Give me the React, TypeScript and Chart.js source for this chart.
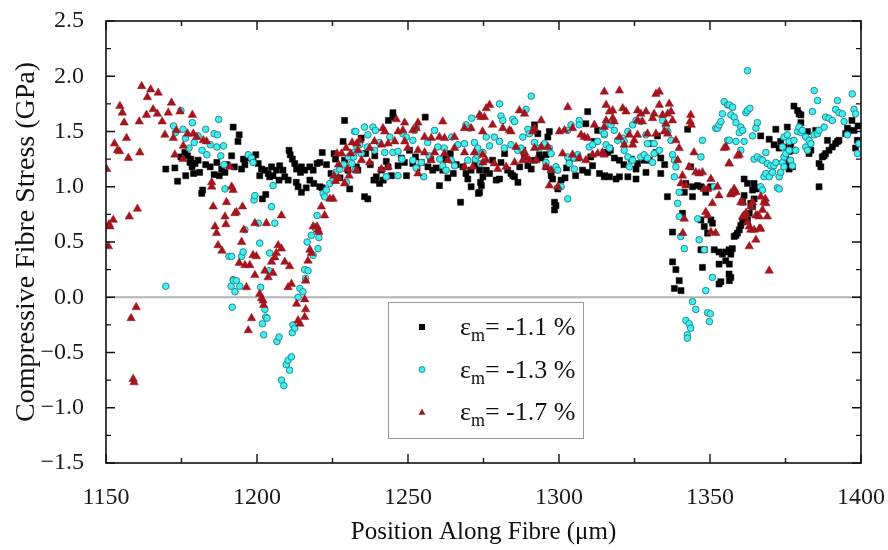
import React, { useEffect, useRef } from "react";
import { Chart, registerables } from "chart.js";

Chart.register(...registerables);

const xRange = [1150, 1400];
const yRange = [-1.5, 2.5];
const xStep = 50;
const yStep = 0.5;
const xTitle = "Position Along Fibre (\u03bcm)";
const yTitle = "Compressive Fibre Stress (GPa)";
const seriesLabels = ["-1.1 %", "-1.3 %", "-1.7 %"];

// epsilon_m = -1.1 %  [position (um), stress (GPa)]
const strain11: number[][] = [
  [1169.8,1.16],[1172.8,1.17],[1173.7,1.05],[1174.8,1.27],[1176.1,1.31],[1176.4,1.10],[1177,1.28],[1177.8,1.22],[1178.1,1.25],[1178.5,1.18],[1179,1.12],[1179.5,1.21],[1180.5,1.24],[1181,1.13],[1181.7,0.94],[1182,0.97],[1183,1.2],[1184.5,1.18],[1185.8,1.11],[1186.7,1.22],[1187.5,1.1],[1188.3,1.16],[1189.4,1.13],[1190,1.2],[1191.6,1.28],[1192.1,1.54],[1192.5,1.18],[1193.7,1.41],[1194.1,1.47],[1194.9,1.16],[1195.5,1.25],[1196,1.2],[1197.4,1.26],[1198.7,1.24],[1199.6,1.29],[1200.4,1.21],[1200.9,1.10],[1201.5,1.16],[1201.8,0.89],[1202.6,1.15],[1202.9,0.93],[1203.7,1.12],[1204.2,1.09],[1204.8,1.18],[1205.3,1.10],[1206.4,1.15],[1207.3,1.06],[1207.5,1.19],[1208.6,1.15],[1209.2,1.09],[1210.3,1.06],[1210.6,1.33],[1211,1.29],[1211.7,1.25],[1212.5,1.21],[1213,1.04],[1213.1,1.16],[1213.6,1.00],[1214.4,1.13],[1214.7,1.18],[1214.7,0.95],[1215.8,1.15],[1216.3,0.99],[1217.5,1.18],[1217.5,1.06],[1218.6,1.15],[1218.8,1.03],[1219.9,1.21],[1220.8,1.22],[1220.8,1.00],[1221.6,1.31],[1221.6,0.99],[1223,1.2],[1224.5,1.12],[1225.5,1.30],[1226,1.25],[1227.5,1.08],[1228.5,1.41],[1229,1.60],[1229,1.24],[1230.1,1.15],[1230.7,0.98],[1232.9,1.18],[1233.4,1.15],[1234.5,1.44],[1235.6,0.91],[1236,1.3],[1236.7,0.89],[1237.5,1.2],[1238.7,1.06],[1239,1.28],[1239.5,1.09],[1240.6,1.03],[1241.2,1.15],[1241.8,1.06],[1242.8,1.23],[1243.4,1.18],[1243.5,1.60],[1244.5,1.1],[1245,1.67],[1245,1.63],[1246.7,1.19],[1247.8,1.26],[1248.8,1.22],[1249.5,1.1],[1250.5,1.33],[1251.6,1.21],[1252.5,1.27],[1253,1.17],[1254.4,1.22],[1255.7,1.63],[1256.6,1.18],[1257.5,1.25],[1258.2,1.15],[1259.3,1.17],[1260.4,1.01],[1261.5,1.15],[1262.5,1.25],[1263.2,1.08],[1264,1.3],[1265,1.12],[1266,1.2],[1267.4,0.86],[1268.2,1.18],[1269.2,1.12],[1269.8,1.07],[1270.9,1.00],[1270.9,1.15],[1272.2,1.20],[1273.3,0.94],[1273.7,1.15],[1273.7,0.95],[1274,1.04],[1274.3,1.01],[1274.8,1.09],[1275.9,1.15],[1277,1.12],[1278,1.24],[1279.2,1.06],[1280.3,1.07],[1280.8,1.22],[1282,1.3],[1283,1.15],[1284.1,1.12],[1284.7,1.10],[1285.3,1.09],[1286.4,1.04],[1287,1.18],[1288,1.33],[1288.6,1.27],[1289.7,1.19],[1290.8,1.16],[1291.9,1.24],[1291.9,1.56],[1293,1.48],[1293.5,1.29],[1294.1,1.26],[1295.7,1.29],[1295.7,1.18],[1296.3,1.45],[1296.8,1.50],[1297.4,1.15],[1297.4,1.10],[1297.9,1.07],[1298.5,0.86],[1298.5,0.79],[1299,0.83],[1299.6,0.98],[1300.7,1.06],[1302,1.08],[1302.5,1.17],[1303.4,1.24],[1304.5,1.26],[1305.5,1.1],[1306.2,1.26],[1307.8,1.15],[1308.9,1.57],[1309.5,1.68],[1309.5,1.13],[1310.5,1.27],[1311.1,1.19],[1311.7,1.41],[1312.8,1.51],[1313.4,1.12],[1315,1.09],[1315,1.31],[1315.2,1.10],[1316.1,1.31],[1316.7,1.35],[1317,1.33],[1316.7,1.09],[1318.3,1.26],[1318.9,1.07],[1320,1.24],[1320,1.09],[1321.5,1.2],[1322.8,1.09],[1324,1.25],[1325.5,1.16],[1325.5,1.07],[1326,1.21],[1328.2,1.24],[1328.8,1.13],[1329.9,1.24],[1330.4,1.39],[1332.1,1.31],[1332.6,1.46],[1333.7,1.26],[1333.7,1.12],[1335,1.2],[1335.9,0.91],[1337.6,0.59],[1337.6,0.32],[1338.2,0.08],[1338.7,0.25],[1339.8,0.15],[1340.4,0.06],[1340.9,0.76],[1341.5,0.95],[1342,1.03],[1342.6,1.52],[1343.6,1.18],[1344.2,1.00],[1344.2,0.91],[1345.9,1.01],[1347,1.00],[1347,0.70],[1347,0.43],[1347.5,0.27],[1348.1,0.64],[1348.1,0.43],[1348.6,0.95],[1349.2,0.58],[1350.3,1.00],[1350.3,0.70],[1350.8,0.67],[1351.4,0.43],[1353,0.41],[1353,0.30],[1353,0.12],[1353.6,0.14],[1354.1,0.39],[1355.2,0.41],[1355.2,0.33],[1356.3,0.43],[1356.3,0.21],[1356.9,0.39],[1356.9,0.18],[1357.4,0.44],[1356.4,0.30],[1356.4,0.15],[1358,0.55],[1358.6,0.56],[1359.1,0.58],[1359.7,0.61],[1360.2,0.65],[1360.8,0.68],[1360.8,0.86],[1361.3,0.92],[1361.3,1.07],[1362.4,0.70],[1362.4,1.03],[1363,0.76],[1363.5,0.85],[1364.1,0.82],[1364.1,0.97],[1364.6,0.89],[1364.6,1.03],[1365.2,0.99],[1365.7,0.98],[1366.8,1.46],[1369.6,1.43],[1371.2,1.38],[1371.8,1.52],[1372.9,1.35],[1373.4,1.41],[1374.5,1.36],[1375.1,1.27],[1375.6,1.33],[1375.6,1.21],[1375.6,1.54],[1376.2,1.32],[1376.2,1.16],[1376.7,1.36],[1377.3,1.18],[1377.8,1.33],[1377.8,1.73],[1379,1.69],[1379.5,1.66],[1380.1,1.65],[1380.1,1.58],[1382.3,1.50],[1382.8,1.30],[1383.4,1.33],[1385,1.51],[1386.1,1.21],[1386.1,1.00],[1386.7,1.18],[1387.2,1.27],[1387.8,1.28],[1388.3,1.30],[1388.9,1.42],[1389.4,1.33],[1390.5,1.36],[1391.6,1.39],[1392.2,1.41],[1392.7,1.42],[1394.9,1.48],[1395.5,1.53],[1396,1.51],[1397,1.6],[1397.7,1.51],[1398.2,1.35],[1398.8,1.42],[1399,1.55]
];

// epsilon_m = -1.3 %
const strain13: number[][] = [
  [1169.8,0.10],[1172.4,1.55],[1173,1.49],[1174.8,1.69],[1175.5,1.52],[1176.3,1.44],[1177.5,1.35],[1178.6,1.58],[1179.2,1.40],[1180.5,1.46],[1181.8,1.33],[1183,1.52],[1183.4,1.29],[1184.5,1.38],[1185.8,1.48],[1186.7,1.36],[1186.9,1.47],[1187.3,1.61],[1188,1.28],[1188.9,1.37],[1189.1,1.20],[1189.4,0.98],[1190.7,0.37],[1191.4,0.10],[1191.6,0.37],[1191.8,-0.09],[1192.1,0.16],[1192.2,0.15],[1192.7,0.05],[1193.2,0.15],[1194.3,0.10],[1194.9,0.37],[1195.4,0.41],[1196,0.61],[1197.1,1.29],[1198.2,1.26],[1198.7,1.22],[1199,0.88],[1199.3,0.92],[1200.4,0.67],[1200.9,0.49],[1201.2,0.09],[1201.8,-0.24],[1202.2,-0.34],[1202.6,-0.11],[1202.9,-0.18],[1203.3,-0.19],[1204,0.24],[1204.2,0.40],[1204.8,0.82],[1205.3,1.01],[1205.9,0.67],[1206.6,-0.40],[1207.3,-0.36],[1208.1,-0.75],[1208.9,-0.80],[1209.7,-0.61],[1210.3,-0.57],[1210.8,-0.66],[1211.4,-0.54],[1211.7,-0.32],[1211.9,-0.25],[1212.5,-0.28],[1213.6,0.00],[1214.2,0.08],[1215.2,0.05],[1215.8,0.25],[1216.1,0.17],[1216.6,0.50],[1216.9,0.24],[1218,0.56],[1218.6,0.38],[1219.1,0.64],[1219.4,0.62],[1219.9,0.74],[1220.2,0.44],[1220.5,0.54],[1221.9,0.94],[1222.4,0.91],[1223,0.97],[1224.1,1.03],[1225.2,1.07],[1226,1.13],[1227.4,1.16],[1228.7,1.20],[1229.6,1.04],[1230.3,1.27],[1231.4,1.21],[1232,1.31],[1232,1.27],[1232.3,1.50],[1232.5,1.15],[1232.7,1.50],[1233.1,1.36],[1234,1.38],[1234.5,1.30],[1235.6,1.54],[1236.5,1.36],[1236.7,1.47],[1238.4,1.54],[1238.9,1.33],[1239.2,1.51],[1240.5,1.4],[1242.3,1.31],[1242.8,1.09],[1244,1.45],[1245,1.31],[1246.7,1.32],[1246.7,1.10],[1248,1.25],[1248.3,1.48],[1249.4,1.45],[1251.6,1.42],[1251.6,1.24],[1252.2,1.51],[1252.7,1.54],[1252.7,1.17],[1254.4,1.22],[1255.2,1.09],[1256.5,1.4],[1257,1.28],[1258.8,1.51],[1259.9,1.36],[1260.5,1.25],[1261.5,1.19],[1262,1.35],[1262.6,1.15],[1264.3,1.24],[1264.5,1.45],[1265.4,1.19],[1266.5,1.38],[1268.7,1.39],[1269.2,1.56],[1269.8,1.24],[1270.4,1.53],[1271.1,1.62],[1272,1.40],[1272.3,1.25],[1273,1.28],[1273.1,1.35],[1274,1.21],[1274.8,1.31],[1275.9,1.45],[1277,1.37],[1278.6,1.45],[1280.3,1.75],[1280.3,1.41],[1280.8,1.64],[1281.4,1.60],[1281.9,1.35],[1284.1,1.38],[1284.7,1.61],[1285.3,1.59],[1286.3,1.33],[1287.4,1.35],[1288,1.45],[1289.1,1.70],[1289.7,1.52],[1290.2,1.48],[1290.8,1.82],[1291.9,1.40],[1293.5,1.35],[1295.2,1.39],[1295.7,1.22],[1296.8,1.35],[1297.4,1.30],[1299,1.18],[1299.6,1.15],[1300.7,1.00],[1302.9,0.89],[1302.9,1.27],[1302.9,1.51],[1303.4,1.21],[1304,1.56],[1305.1,1.26],[1305.1,1.16],[1306.2,1.29],[1306.7,1.60],[1306.7,1.56],[1310,1.36],[1311.1,1.38],[1312.8,1.41],[1314.4,1.51],[1315,1.47],[1315,1.48],[1315.6,1.38],[1316.1,1.57],[1316.7,1.35],[1317.2,1.56],[1318.3,1.51],[1319.4,1.42],[1321.1,1.44],[1321.6,1.41],[1321.6,1.33],[1322.8,1.50],[1322.8,1.27],[1323.3,1.18],[1324.4,1.56],[1324.4,1.24],[1325.5,1.60],[1327.1,1.59],[1327.1,1.27],[1328.2,1.29],[1328.8,1.47],[1329.3,1.26],[1329.3,1.39],[1331,1.22],[1331.5,1.30],[1331.5,1.39],[1333.2,1.33],[1334.3,1.60],[1335.4,1.54],[1336,1.50],[1337.1,1.42],[1337.6,1.29],[1338.2,1.24],[1338.7,1.18],[1338.2,1.09],[1339.8,0.95],[1339.3,0.85],[1339.8,0.73],[1340.3,0.55],[1341.5,0.44],[1342,-0.21],[1342.5,-0.34],[1342.5,-0.37],[1343.1,-0.24],[1343.6,-0.28],[1344.2,-0.04],[1345.3,-0.11],[1345.9,0.71],[1346.4,0.52],[1347,1.27],[1347.5,1.42],[1348.1,0.43],[1348.6,0.06],[1349.2,-0.14],[1349.8,-0.22],[1350.1,-0.15],[1350.8,0.18],[1351.4,1.00],[1351.9,1.53],[1352.5,1.53],[1353,1.56],[1353.6,1.59],[1354.1,1.66],[1354.7,1.77],[1355.8,1.74],[1355.8,1.42],[1356.4,1.74],[1356.4,1.42],[1356.9,1.65],[1357.4,1.72],[1357.5,1.72],[1358,1.63],[1358.6,1.58],[1358.6,1.41],[1359.7,1.49],[1360.2,1.54],[1360.2,1.33],[1360.8,1.51],[1361.3,1.41],[1361.9,1.67],[1362.4,1.69],[1362.4,2.05],[1363.2,1.71],[1364.1,1.46],[1364.6,1.25],[1365.2,1.53],[1365.7,1.58],[1365.7,1.27],[1366.8,1.25],[1366.8,1.00],[1367.4,1.24],[1367.4,0.97],[1367.9,1.09],[1368.5,1.31],[1368.5,1.12],[1369,1.21],[1369.6,1.09],[1370.1,1.19],[1370.7,1.13],[1371.2,1.19],[1371.8,1.22],[1372.3,0.99],[1372.9,0.98],[1372.9,1.09],[1373.4,1.13],[1374,1.36],[1374,1.22],[1374.5,1.45],[1374.5,1.18],[1374.5,1.27],[1375.1,1.30],[1375.6,1.47],[1376.2,1.41],[1376.2,1.33],[1376.7,1.24],[1377.3,1.19],[1377.8,1.42],[1378.4,1.33],[1379,1.50],[1379.5,1.54],[1380.1,1.49],[1380.6,1.51],[1381.7,1.45],[1381.7,1.36],[1382.3,1.33],[1382.8,1.42],[1383.4,1.39],[1383.9,1.68],[1384.5,1.87],[1384.5,1.47],[1385.6,1.78],[1385.6,1.48],[1386.1,1.51],[1387.8,1.54],[1388.3,1.63],[1389.4,1.62],[1390.5,1.60],[1391.6,1.70],[1392.2,1.78],[1392.7,1.67],[1393.8,1.66],[1394.4,1.59],[1395.5,1.47],[1397.1,1.84],[1397.7,1.70],[1398.2,1.66],[1398.8,1.30],[1399.3,1.39]
];

// epsilon_m = -1.7 %
const strain17: number[][] = [
  [1150.2,1.16],[1150.8,0.46],[1151,0.66],[1151.3,0.64],[1152.4,0.70],[1152.8,1.39],[1153.8,1.33],[1154.5,1.32],[1154.6,1.73],[1155.4,1.67],[1156,1.58],[1156.8,1.44],[1157.4,1.26],[1157.7,0.73],[1158.3,-0.19],[1159,-0.74],[1159.3,-0.77],[1160,-0.09],[1160.4,0.80],[1161,1.59],[1161.2,1.31],[1161.8,1.91],[1163.4,1.65],[1163.7,1.81],[1164.8,1.88],[1165.6,1.70],[1167,1.66],[1167.3,1.85],[1168.6,1.59],[1169.5,1.47],[1170.6,1.67],[1171.7,1.76],[1172.3,1.44],[1172.8,1.29],[1173.3,1.51],[1174.5,1.68],[1175.5,1.25],[1175.6,1.37],[1177,1.48],[1178.6,1.65],[1178.9,1.48],[1180,1.45],[1182.2,1.42],[1183.3,1.41],[1185,1.04],[1185,1.00],[1185.5,0.82],[1186.1,0.64],[1186.6,0.58],[1187.1,0.47],[1188.4,0.42],[1189.4,0.73],[1189.7,0.66],[1189.9,0.86],[1191,1.18],[1191.6,1.00],[1192.1,0.97],[1192.7,0.76],[1193.2,0.77],[1194.1,0.31],[1194.9,0.50],[1195.2,0.82],[1195.6,0.61],[1196,0.29],[1196.5,0.09],[1197.1,-0.30],[1197.6,0.29],[1198.2,-0.19],[1198.7,0.38],[1199.3,0.67],[1199.3,0.20],[1199.8,0.37],[1200.9,0.03],[1201.5,-0.01],[1202,-0.03],[1202.2,-0.07],[1202.6,0.24],[1203.1,0.67],[1203.7,0.18],[1204.8,0.32],[1205.3,0.22],[1205.9,0.36],[1206.4,0.40],[1207,0.47],[1208.1,0.44],[1208.1,0.74],[1209.2,0.32],[1210.3,0.09],[1210.8,0.28],[1211.4,0.12],[1213.1,-0.06],[1213.6,-0.21],[1214.2,-0.24],[1215.8,-0.18],[1215.8,-0.02],[1216.1,-0.11],[1216.1,0.15],[1216.9,0.33],[1217.5,0.43],[1218,0.40],[1218.6,0.64],[1219.9,0.64],[1220.2,0.61],[1220.5,0.59],[1221.3,0.82],[1222.4,0.74],[1224.1,0.89],[1225.2,0.89],[1225.5,1.10],[1226,1.05],[1226.5,1.3],[1227,1.2],[1227,1.08],[1228,1.3],[1229,1.03],[1229.5,1.35],[1230,1.16],[1230.5,1.1],[1231,1.3],[1231.5,1.4],[1232.9,1.15],[1233,1.39],[1233.4,1.33],[1234,1.42],[1234.6,1.24],[1237.3,1.35],[1237.3,1.22],[1238.9,1.41],[1241.2,1.38],[1241.2,1.16],[1241.7,1.53],[1242.3,1.50],[1243.4,1.39],[1243.4,1.18],[1245.6,1.41],[1246.1,1.61],[1246.7,1.50],[1248.3,1.51],[1248.9,1.58],[1248.9,1.41],[1249.9,1.35],[1251.6,1.51],[1252.7,1.53],[1253.3,1.58],[1253.3,1.33],[1253.3,1.12],[1255.5,1.45],[1255.5,1.31],[1257.7,1.44],[1257.7,1.24],[1258.8,1.31],[1260.4,1.45],[1261.5,1.59],[1262.1,1.44],[1262.1,1.30],[1263.2,1.24],[1265.4,1.45],[1265.4,1.35],[1268.7,1.53],[1268.7,1.31],[1268.7,1.18],[1270.9,1.53],[1271.5,1.18],[1272,1.31],[1273.7,1.65],[1274.2,1.63],[1274.7,1.50],[1274.7,1.29],[1274.8,1.22],[1275.3,1.63],[1275.9,1.71],[1275.9,1.24],[1277,1.74],[1278,1.56],[1278.6,1.21],[1279.7,1.16],[1281.4,1.53],[1282.5,1.18],[1283.6,1.51],[1284.1,1.50],[1285.3,1.22],[1285.8,1.36],[1286.9,1.69],[1288,1.24],[1288.6,1.66],[1288.6,1.31],[1289.1,1.27],[1290.2,1.24],[1291.3,1.50],[1291.9,1.53],[1291.9,1.35],[1292.4,1.24],[1294.1,1.60],[1294.1,1.36],[1295.7,1.18],[1296.3,1.36],[1296.8,1.01],[1297.4,1.15],[1299.6,1.00],[1300.1,1.50],[1301.2,1.30],[1301.8,1.51],[1302.9,1.72],[1304.5,1.53],[1304.5,1.29],[1306.7,1.26],[1307.3,1.47],[1308.4,1.45],[1308.9,1.24],[1309.5,1.44],[1311.1,1.29],[1311.7,1.56],[1312.8,1.30],[1314.4,1.31],[1315,1.86],[1315,1.54],[1315,1.29],[1315.6,1.74],[1315.6,1.60],[1316.7,1.68],[1317.8,1.69],[1317.8,1.62],[1318.3,1.59],[1320,1.87],[1320,1.45],[1321.1,1.71],[1321.6,1.38],[1322.2,1.68],[1323.3,1.47],[1324.4,1.38],[1324.9,1.42],[1326,1.69],[1326,1.60],[1326,1.47],[1327.1,1.66],[1327.6,1.59],[1328.8,1.68],[1329.3,1.48],[1331,1.62],[1331.5,1.66],[1332.1,1.84],[1332.1,1.48],[1333.2,1.86],[1333.2,1.74],[1334.3,1.65],[1334.9,1.50],[1335.4,1.57],[1336,1.66],[1336,1.48],[1336.5,1.75],[1337.1,1.68],[1337.6,1.60],[1338.7,1.42],[1339.3,1.24],[1339.8,1.35],[1340.4,1.03],[1340.9,1.10],[1341,0.58],[1341.5,0.71],[1342,1.01],[1343.1,1.18],[1343.4,1.59],[1343.6,1.65],[1343.8,1.56],[1344.7,1.31],[1345.3,1.13],[1346.4,1.12],[1347.5,1.13],[1348.1,0.98],[1348.6,0.77],[1349.2,0.74],[1349.2,0.98],[1350.3,1.07],[1350.3,0.59],[1350.8,0.85],[1351.9,0.58],[1352.5,1.00],[1353,0.92],[1354.7,1.35],[1355.3,1.36],[1356.3,1.21],[1356.4,1.21],[1356.9,0.94],[1356.9,0.93],[1357.5,0.94],[1358,0.98],[1358,0.97],[1358.6,0.95],[1359.1,1.28],[1359.7,1.29],[1360.2,0.86],[1360.8,0.86],[1360.8,0.73],[1361.3,0.74],[1361.9,0.76],[1362.4,0.68],[1363,0.64],[1363,0.46],[1363.5,0.82],[1363.5,0.61],[1364.1,0.86],[1364.6,0.61],[1365.2,0.74],[1365.2,0.52],[1365.7,0.74],[1366.3,0.73],[1366.3,0.62],[1366.8,0.91],[1366.8,0.62],[1367.4,0.79],[1367.9,0.86],[1368.3,0.89],[1368.5,0.85],[1369,0.73],[1369.6,0.24]
];

const SERIF = '"Liberation Serif", "Times New Roman", serif';

const zeroLinePlugin = {
  id: "zeroLine",
  beforeDatasetsDraw(chart: any) {
    const { ctx, chartArea, scales } = chart;
    const y = scales.y.getPixelForValue(0);
    ctx.save();
    ctx.strokeStyle = "#b4b4b4";
    ctx.lineWidth = 2;
    ctx.beginPath();
    ctx.moveTo(chartArea.left, y);
    ctx.lineTo(chartArea.right, y);
    ctx.stroke();
    ctx.restore();
  },
};

const framePlugin = {
  id: "frameTicks",
  afterDraw(chart: any) {
    const { ctx, chartArea: a, scales } = chart;
    ctx.save();
    ctx.strokeStyle = "#111";
    ctx.lineWidth = 1.6;
    ctx.strokeRect(a.left, a.top, a.right - a.left, a.bottom - a.top);
    ctx.lineWidth = 1.4;
    ctx.beginPath();
    const nx = Math.round((xRange[1] - xRange[0]) / (xStep / 2));
    for (let i = 0; i <= nx; i++) {
      const v = xRange[0] + (i * xStep) / 2;
      const len = i % 2 === 0 ? 9 : 5;
      const px = scales.x.getPixelForValue(v);
      ctx.moveTo(px, a.bottom);
      ctx.lineTo(px, a.bottom - len);
      ctx.moveTo(px, a.top);
      ctx.lineTo(px, a.top + len);
    }
    const ny = Math.round((yRange[1] - yRange[0]) / (yStep / 2));
    for (let i = 0; i <= ny; i++) {
      const v = yRange[0] + (i * yStep) / 2;
      const len = i % 2 === 0 ? 9 : 5;
      const py = scales.y.getPixelForValue(v);
      ctx.moveTo(a.left, py);
      ctx.lineTo(a.left + len, py);
      ctx.moveTo(a.right, py);
      ctx.lineTo(a.right - len, py);
    }
    ctx.stroke();
    ctx.restore();
  },
};

const legendPlugin = {
  id: "strainLegend",
  afterDatasetsDraw(chart: any) {
    const { ctx } = chart;
    const box = { x: 388, y: 302, w: 195, h: 136 };
    ctx.save();
    ctx.fillStyle = "#fff";
    ctx.fillRect(box.x, box.y, box.w, box.h);
    ctx.strokeStyle = "#9a9a9a";
    ctx.lineWidth = 1;
    ctx.strokeRect(box.x + 0.5, box.y + 0.5, box.w, box.h);
    chart.data.datasets.forEach((ds: any, i: number) => {
      const cy = 327 + i * 42.5;
      const mx = 422;
      ctx.fillStyle = ds.backgroundColor;
      ctx.strokeStyle = ds.borderColor;
      ctx.lineWidth = 1;
      if (ds.pointStyle === "rect") {
        ctx.fillRect(mx - 3, cy - 3, 6, 6);
      } else if (ds.pointStyle === "circle") {
        ctx.beginPath();
        ctx.arc(mx, cy, 3, 0, Math.PI * 2);
        ctx.fill();
        ctx.stroke();
      } else {
        ctx.beginPath();
        ctx.moveTo(mx, cy - 3.5);
        ctx.lineTo(mx + 3.5, cy + 2.8);
        ctx.lineTo(mx - 3.5, cy + 2.8);
        ctx.closePath();
        ctx.fill();
      }
      ctx.fillStyle = "#111";
      ctx.textBaseline = "alphabetic";
      ctx.textAlign = "left";
      const base = cy + 8;
      let tx = 460;
      ctx.font = `26px ${SERIF}`;
      ctx.fillText("\u03b5", tx, base);
      tx += ctx.measureText("\u03b5").width;
      ctx.font = `18px ${SERIF}`;
      ctx.fillText("m", tx, base + 6);
      tx += ctx.measureText("m").width;
      ctx.font = `26px ${SERIF}`;
      ctx.fillText("= " + seriesLabels[i], tx, base);
    });
    ctx.restore();
  },
};

const toPoints = (arr: number[][]) => arr.map(([x, y]) => ({ x, y }));

export default function App() {
  const ref = useRef<HTMLCanvasElement | null>(null);
  useEffect(() => {
    if (!ref.current) return;
    const chart = new Chart(ref.current, {
      type: "scatter",
      data: {
        datasets: [
          {
            label: seriesLabels[0],
            data: toPoints(strain11),
            pointStyle: "rect",
            pointRadius: 4.3,
            backgroundColor: "#000000",
            borderColor: "#000000",
            borderWidth: 0.5,
            order: 2,
          },
          {
            label: seriesLabels[1],
            data: toPoints(strain13),
            pointStyle: "circle",
            pointRadius: 3.3,
            backgroundColor: "#3ff0f0",
            borderColor: "#2a8a92",
            borderWidth: 1,
            order: 1,
          },
          {
            label: seriesLabels[2],
            data: toPoints(strain17),
            pointStyle: "triangle",
            pointRadius: 4.9,
            backgroundColor: "#a3151f",
            borderColor: "#a3151f",
            borderWidth: 0.5,
            order: 0,
          },
        ] as any,
      },
      options: {
        animation: false,
        responsive: true,
        maintainAspectRatio: false,
        layout: { padding: { top: 21, right: 27, left: 0, bottom: 0 } },
        plugins: { legend: { display: false }, tooltip: { enabled: false } },
        scales: {
          x: {
            type: "linear",
            min: xRange[0],
            max: xRange[1],
            grid: { display: false },
            border: { display: false },
            ticks: {
              stepSize: xStep,
              color: "#1a1a1a",
              font: { family: SERIF, size: 24 },
              padding: 12,
              maxRotation: 0,
              callback: (v: any) => String(v),
            },
            title: {
              display: true,
              text: xTitle,
              color: "#111",
              font: { family: SERIF, size: 25 },
              padding: { top: 0, bottom: 3 },
            },
            afterFit: (s: any) => {
              s.height = 87;
              s.paddingLeft = 0;
              s.paddingRight = 0;
            },
          },
          y: {
            type: "linear",
            min: yRange[0],
            max: yRange[1],
            grid: { display: false },
            border: { display: false },
            ticks: {
              stepSize: yStep,
              color: "#1a1a1a",
              font: { family: SERIF, size: 24 },
              padding: 14,
              callback: (v: any) => {
                const n = Number(v);
                return n < 0 ? "\u2212" + Math.abs(n).toFixed(1) : n.toFixed(1);
              },
            },
            title: {
              display: true,
              text: yTitle,
              color: "#111",
              font: { family: SERIF, size: 28 },
              padding: { top: 10, bottom: 0 },
            },
            afterFit: (s: any) => {
              s.width = 106;
              s.paddingTop = 0;
              s.paddingBottom = 0;
            },
          },
        },
      } as any,
      plugins: [zeroLinePlugin, legendPlugin, framePlugin],
    });
    return () => chart.destroy();
  }, []);
  return (
    <div style={{ position: "absolute", left: 0, top: 0, width: 888, height: 550, background: "#fff" }}>
      <canvas ref={ref} />
    </div>
  );
}
